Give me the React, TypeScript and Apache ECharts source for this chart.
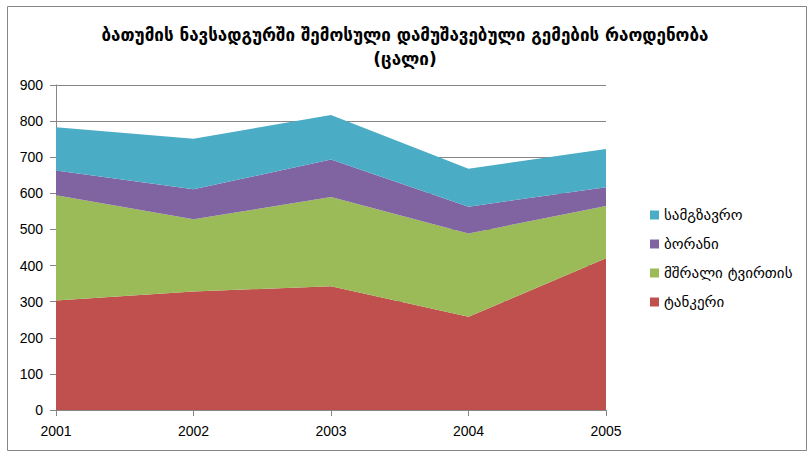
import React, { useEffect, useRef } from "react";
import * as echarts from "echarts";

const years = ["2001", "2002", "2003", "2004", "2005"];
const tankers = [303, 328, 343, 258, 420];
const dryCargo = [292, 200, 247, 231, 145];
const ferries = [68, 83, 104, 74, 52];
const passenger = [120, 140, 123, 105, 106];

const seriesNames = ["ტანკერი", "მშრალი ტვირთის", "ბორანი", "სამგზავრო"];
const colors = ["#C0504D", "#9BBB59", "#8064A2", "#4BACC6"];
const titleText = "ბათუმის ნავსადგურში შემოსული დამუშავებული გემების რაოდენობა\n(ცალი)";

export default function App() {
  const ref = useRef<HTMLDivElement>(null);
  useEffect(() => {
    const chart = echarts.init(ref.current!, null, { renderer: "svg" });
    const data = [tankers, dryCargo, ferries, passenger];
    chart.setOption({
      animation: false,
      backgroundColor: "#ffffff",
      title: {
        text: titleText,
        left: "center",
        top: 18,
        textStyle: {
          fontFamily: "DejaVu Sans, Liberation Sans, sans-serif",
          fontSize: 17,
          fontWeight: "bold",
          color: "#000",
          lineHeight: 24,
        },
      },
      graphic: [
        {
          type: "rect",
          shape: { x: 7.5, y: 6.5, width: 799, height: 444 },
          style: { fill: "none", stroke: "#868686", lineWidth: 1 },
          silent: true,
          z: -1,
        },
      ],
      legend: {
        orient: "vertical",
        left: 645,
        top: 201,
        itemGap: 11,
        itemWidth: 9,
        itemHeight: 9,
        icon: "rect",
        data: [seriesNames[3], seriesNames[2], seriesNames[1], seriesNames[0]],
        textStyle: {
          fontFamily: "DejaVu Sans, Liberation Sans, sans-serif",
          fontSize: 15,
          lineHeight: 18,
          color: "#000",
        },
      },
      grid: { left: 56, right: 204, top: 85, bottom: 50 },
      xAxis: {
        type: "category",
        data: years,
        boundaryGap: false,
        axisLine: { lineStyle: { color: "#868686" } },
        axisTick: { show: true, alignWithLabel: true, length: 6, lineStyle: { color: "#868686" } },
        axisLabel: { color: "#000", fontFamily: "Liberation Sans, sans-serif", fontSize: 14, margin: 14 },
      },
      yAxis: {
        type: "value",
        min: 0,
        max: 900,
        interval: 100,
        axisLine: { show: true, lineStyle: { color: "#868686" } },
        axisTick: { show: true, length: 6, lineStyle: { color: "#868686" } },
        splitLine: { show: true, lineStyle: { color: "#868686", width: 1 } },
        axisLabel: { color: "#000", fontFamily: "Liberation Sans, sans-serif", fontSize: 14, margin: 13 },
      },
      series: data.map((d, i) => ({
        name: seriesNames[i],
        type: "line",
        stack: "total",
        data: d,
        symbol: "none",
        lineStyle: { width: 0 },
        areaStyle: { color: colors[i], opacity: 1 },
        itemStyle: { color: colors[i] },
      })),
    });
    return () => chart.dispose();
  }, []);
  return (
    <div
      ref={ref}
      style={{ position: "fixed", left: 0, top: 0, width: 810, height: 460 }}
    />
  );
}
